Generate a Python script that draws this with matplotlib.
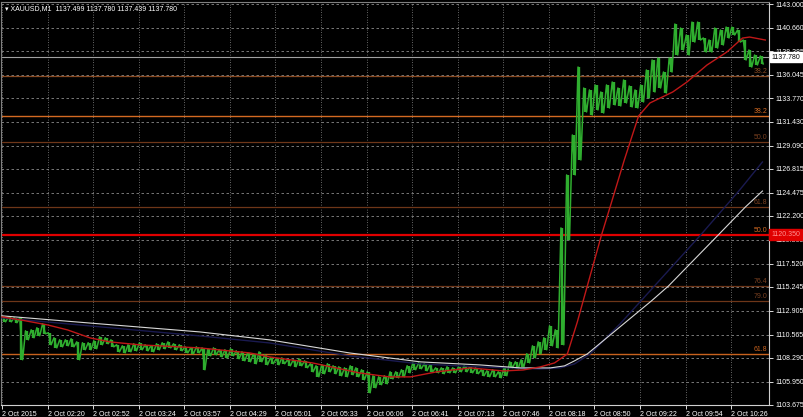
import numpy as np
import matplotlib
matplotlib.use("Agg")
import matplotlib.pyplot as plt

plt.rcParams["font.family"] = ["Liberation Sans", "DejaVu Sans"]

# --- data (XAUUSD M1, grouped by 4 bars: high / low) ---
bar_high = [1112.30, 1112.30, 1112.21, 1112.21, 1110.93, 1111.03, 1111.23, 1111.62, 1110.74, 1110.25,
            1110.05, 1110.05, 1110.15, 1109.85, 1109.76, 1109.76, 1109.95, 1110.34, 1110.25, 1110.05,
            1109.56, 1109.46, 1109.56, 1109.66, 1109.76, 1109.56, 1109.46, 1109.66, 1109.76, 1109.85,
            1109.66, 1109.56, 1109.36, 1109.26, 1109.36, 1109.26, 1109.17, 1109.26, 1109.07, 1109.07,
            1109.17, 1108.97, 1108.87, 1108.77, 1108.68, 1108.87, 1108.58, 1108.28, 1108.19, 1108.28,
            1108.09, 1108.09, 1108.19, 1107.99, 1107.70, 1107.50, 1107.60, 1107.70, 1107.50, 1107.40,
            1107.30, 1107.50, 1107.30, 1107.11, 1106.91, 1106.52, 1106.42, 1106.52, 1106.91, 1106.91,
            1107.11, 1107.50, 1107.79, 1107.79, 1107.70, 1107.60, 1107.30, 1107.30, 1107.40, 1107.30,
            1107.40, 1107.50, 1107.40, 1107.30, 1107.11, 1107.01, 1107.11, 1106.91, 1107.30, 1107.89,
            1107.89, 1108.09, 1108.68, 1109.46, 1109.85, 1110.25, 1111.42, 1111.03, 1121.03, 1126.23,
            1130.15, 1136.82, 1134.76, 1134.57, 1135.06, 1134.37, 1135.06, 1135.35, 1134.76, 1135.55,
            1134.96, 1134.57, 1135.06, 1136.53, 1137.51, 1137.70, 1136.33, 1137.70, 1141.04, 1140.65,
            1139.96, 1141.23, 1141.23, 1139.67, 1139.47, 1140.65, 1140.45, 1140.74, 1140.74, 1140.45,
            1139.47, 1138.49, 1138.00, 1137.90]
bar_low = [1111.81, 1111.81, 1111.72, 1108.09, 1110.05, 1110.25, 1110.44, 1110.64, 1109.56, 1109.26,
           1109.36, 1109.46, 1109.36, 1108.09, 1109.07, 1109.07, 1109.17, 1109.56, 1109.66, 1109.36,
           1108.87, 1108.77, 1108.87, 1108.97, 1109.07, 1108.97, 1108.87, 1109.07, 1109.17, 1109.26,
           1109.07, 1108.97, 1108.77, 1108.68, 1108.77, 1107.11, 1108.48, 1108.58, 1108.38, 1108.28,
           1108.48, 1108.19, 1107.99, 1107.89, 1107.70, 1107.89, 1107.60, 1107.70, 1107.60, 1107.70,
           1107.50, 1107.40, 1107.50, 1107.30, 1106.91, 1106.42, 1106.72, 1106.91, 1106.72, 1106.52,
           1106.42, 1106.62, 1106.42, 1106.13, 1104.85, 1105.34, 1105.64, 1105.73, 1106.22, 1106.32,
           1106.42, 1106.81, 1107.11, 1107.21, 1107.01, 1106.91, 1106.81, 1106.72, 1106.81, 1106.81,
           1106.91, 1106.91, 1106.81, 1106.72, 1106.52, 1106.42, 1106.42, 1106.32, 1106.52, 1107.30,
           1107.21, 1107.40, 1107.79, 1108.28, 1108.68, 1109.07, 1109.46, 1109.26, 1109.56, 1119.86,
           1126.23, 1127.70, 1132.41, 1132.11, 1132.61, 1132.31, 1132.80, 1133.10, 1133.00, 1133.29,
           1132.90, 1132.80, 1133.39, 1133.78, 1134.37, 1134.76, 1134.27, 1136.33, 1138.00, 1138.49,
           1138.00, 1139.27, 1139.47, 1138.29, 1138.29, 1138.68, 1138.98, 1139.67, 1139.96, 1139.27,
           1137.51, 1136.82, 1137.02, 1137.12]
group_size = 4

# moving averages (bar index, price)
red_ma_bar = [0, 13, 32, 46, 62, 76, 97, 139, 174, 188, 218, 251, 272, 287, 305, 329, 352, 366, 378,
              388, 397, 404, 411, 421, 427, 437, 447, 455, 471, 481, 495, 509, 520, 525, 536]
red_ma_val = [1112.30, 1112.00, 1111.51, 1111.02, 1110.23, 1109.84, 1109.55, 1109.25, 1108.76, 1108.37,
              1107.78, 1106.80, 1106.41, 1106.41, 1106.90, 1107.29, 1106.99, 1107.09, 1107.39,
              1107.78, 1108.66, 1111.80, 1115.33, 1120.34, 1123.08, 1127.70, 1132.01, 1133.29,
              1134.37, 1135.35, 1137.01, 1138.29, 1139.66, 1139.76, 1139.47]
white_ma_bar = [0, 69, 139, 188, 244, 294, 336, 364, 385, 395, 402, 411, 434, 456, 468, 503, 522, 534]
white_ma_val = [1112.40, 1111.61, 1110.82, 1110.04, 1108.76, 1107.88, 1107.58, 1107.29, 1107.29,
                1107.49, 1107.98, 1108.66, 1111.32, 1113.86, 1115.33, 1120.34, 1123.08, 1124.65]
navy_ma_bar = [0, 69, 139, 188, 244, 294, 336, 378, 392, 402, 413, 434, 462, 490, 518, 534]
navy_ma_val = [1112.20, 1111.32, 1110.43, 1109.74, 1108.47, 1107.68, 1107.39, 1107.19, 1107.29,
               1107.68, 1108.66, 1111.61, 1115.92, 1120.24, 1124.75, 1127.50]

# fibonacci levels
fib_price = [1135.94, 1132.02, 1129.47, 1123.09, 1120.35, 1115.34, 1113.87, 1108.68]
fib_label = ["38.2", "38.2", "50.0", "61.8", "50.0", "76.4", "79.0", "61.8"]

price_ticks = [1143.000, 1140.660, 1138.385, 1136.045, 1133.770, 1131.430, 1129.090, 1126.815,
               1124.475, 1122.200, 1119.860, 1117.520, 1115.245, 1112.905, 1110.565, 1108.290,
               1105.950, 1103.675]
time_labels = ["2 Oct 2015", "2 Oct 02:20", "2 Oct 02:52", "2 Oct 03:24", "2 Oct 03:57",
               "2 Oct 04:29", "2 Oct 05:01", "2 Oct 05:33", "2 Oct 06:06", "2 Oct 06:41",
               "2 Oct 07:13", "2 Oct 07:46", "2 Oct 08:18", "2 Oct 08:50", "2 Oct 09:22",
               "2 Oct 09:54", "2 Oct 10:26"]
bars_per_label = 32
bid = 1137.780
header = "XAUUSD,M1  1137.499 1137.780 1137.439 1137.780"

# --- styles ---
BG = "black"
GREEN = "#2fae2f"
DIM = "#6e3618"
fib_color = ["#8a4a22", "#d46a22", DIM, DIM, "#e00000", DIM, DIM, "#c8621e"]
fib_text_color = ["#8a4a22", "#d46a22", "#7a4020", "#7a4020", "#d46a22", "#7a4020", "#7a4020", "#c8621e"]
fib_lw = [0.9, 1.0, 0.9, 0.9, 1.6, 0.9, 0.9, 1.0]

W, H = 804, 417
fig = plt.figure(figsize=(W / 100, H / 100), dpi=100, facecolor=BG)
ax = fig.add_axes([1 / W, 12 / H, 768 / W, 403 / H], facecolor=BG)

ax.set_xlim(-0.7, 538.6)
ax.set_ylim(1103.65, 1143.2)

# grid
ax.set_yticks(price_ticks)
ax.set_yticklabels([f"{p:.3f}" for p in price_ticks])
ax.set_xticks(np.arange(len(time_labels)) * bars_per_label)
ax.set_xticklabels(time_labels, ha="left")
for p in price_ticks:
    ax.axhline(p, color="#8a8a8a", lw=0.6, ls=(0, (3, 3)), zorder=0.5)
for t in np.arange(len(time_labels)) * bars_per_label:
    ax.axvline(t, color="#8a8a8a", lw=0.6, ls=(0, (1, 2)), zorder=0.5)

# fib levels
for p, lab, c, tc, lw in zip(fib_price, fib_label, fib_color, fib_text_color, fib_lw):
    ax.axhline(p, color=c, lw=lw, zorder=1)
    ax.text(537.5, p + 0.12, lab, color=tc, fontsize=5, ha="right", va="bottom", zorder=1)

# bid line
ax.axhline(bid, color="#a0a0a0", lw=0.8, zorder=1)

# price bars: high-low sticks plus a jagged path through the extremes
hi = np.array(bar_high)
lo = np.array(bar_low)
base = np.arange(len(hi)) * group_size
ax.vlines(base + 1.5, lo, hi, color=GREEN, lw=1.7, zorder=2)
zx = np.column_stack([base + 0.5, base + 2.5]).ravel()
zy = np.column_stack([hi, lo]).ravel()
ax.plot(zx, zy, color=GREEN, lw=1.1, zorder=2)

# moving averages
ax.plot(navy_ma_bar, navy_ma_val, color="#1a1a50", lw=1.0, zorder=3)
ax.plot(white_ma_bar, white_ma_val, color="#d8d8d8", lw=0.8, zorder=3)
ax.plot(red_ma_bar, red_ma_val, color="#c01818", lw=1.0, zorder=3)

# axes styling
ax.yaxis.tick_right()
ax.tick_params(axis="y", colors="white", labelsize=5, length=3, width=0.6, pad=2)
ax.tick_params(axis="x", colors="white", labelsize=5, length=3, width=0.6, pad=1.5)
for side in ["left", "top"]:
    ax.spines[side].set_color("#808080")
    ax.spines[side].set_linewidth(0.8)
for side in ["right", "bottom"]:
    ax.spines[side].set_color("#d0d0d0")
    ax.spines[side].set_linewidth(0.8)

# right-side price boxes
trans = ax.get_yaxis_transform()
ax.text(1.003, bid, f"{bid:.3f}", transform=trans, fontsize=5, color="black", va="center",
        ha="left", clip_on=False, zorder=6,
        bbox=dict(boxstyle="square,pad=0.25", facecolor="white", edgecolor="white"))
ax.text(1.003, fib_price[4], f"{fib_price[4]:.3f}", transform=trans, fontsize=5, color="#ff9090",
        va="center", ha="left", clip_on=False, zorder=6,
        bbox=dict(boxstyle="square,pad=0.3", facecolor="#e00000", edgecolor="#e00000"))

# header
fig.text(5 / W, 1 - 9 / H, "\u25be " + header, color="white", fontsize=5, va="center", ha="left",
         family=["Liberation Sans", "DejaVu Sans"])

fig.savefig("out.png", dpi=100, facecolor=BG)
